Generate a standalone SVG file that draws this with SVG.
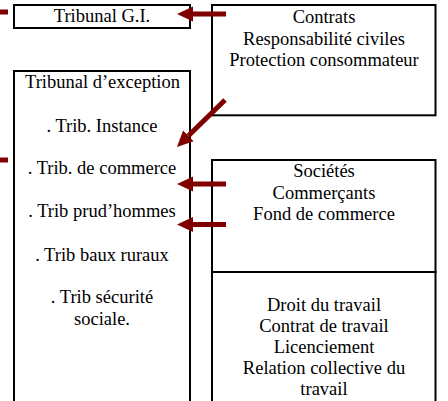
<svg xmlns="http://www.w3.org/2000/svg" width="448" height="401" viewBox="0 0 448 401">
  <defs>
    <marker id="head" markerUnits="userSpaceOnUse" viewBox="0 0 16 16" markerWidth="16" markerHeight="16" refX="0" refY="8" orient="auto">
      <path d="M0,0.5 L16,8 L0,15.5 z" fill="#800000"/>
    </marker>
    <style>
      .box { fill: #ffffff; stroke: #000000; stroke-width: 2; }
      .txt { font-family: "Liberation Serif", "Times New Roman", serif; font-size: 18.5px; fill: #000000; text-anchor: middle; }
      .arrow { stroke: #800000; stroke-width: 5; fill: none; marker-end: url(#head); }
      .stub { fill: #800000; }
    </style>
  </defs>
  <rect width="448" height="401" fill="#ffffff"/>

  <!-- Tribunal de grande instance -->
  <g id="tribunal-gi">
    <rect class="box" x="14" y="5" width="176" height="23"/>
    <text class="txt" x="102" y="22">Tribunal G.I.</text>
  </g>

  <!-- Civil matters -->
  <g id="contrats">
    <rect class="box" x="212" y="5" width="223.5" height="110.3"/>
    <text class="txt" x="324" y="23">Contrats</text>
    <text class="txt" x="324" y="44.5">Responsabilité civiles</text>
    <text class="txt" x="324" y="66">Protection consommateur</text>
  </g>

  <!-- Exceptional courts -->
  <g id="tribunal-exception">
    <rect class="box" x="14" y="71" width="176" height="340"/>
    <text class="txt" x="102.5" y="88.3">Tribunal d’exception</text>
    <text class="txt" x="102" y="131.7">. Trib. Instance</text>
    <text class="txt" x="102" y="174.3">. Trib. de commerce</text>
    <text class="txt" x="102" y="217.3">. Trib prud’hommes</text>
    <text class="txt" x="102" y="260.5">. Trib baux ruraux</text>
    <text class="txt" x="102" y="303.3">. Trib sécurité</text>
    <text class="txt" x="102" y="324.5">sociale.</text>
  </g>

  <!-- Commercial matters -->
  <g id="societes">
    <rect class="box" x="212" y="160" width="223.5" height="112"/>
    <text class="txt" x="324" y="177.3">Sociétés</text>
    <text class="txt" x="324" y="198.5">Commerçants</text>
    <text class="txt" x="324" y="220">Fond de commerce</text>
  </g>

  <!-- Labour law -->
  <g id="droit-travail">
    <rect class="box" x="212" y="272" width="223.5" height="140"/>
    <text class="txt" x="324" y="310.7">Droit du travail</text>
    <text class="txt" x="324" y="331.8">Contrat de travail</text>
    <text class="txt" x="324" y="352.9">Licenciement</text>
    <text class="txt" x="324" y="374.2">Relation collective du</text>
    <text class="txt" x="324" y="395.3">travail</text>
  </g>

  <!-- Connectors -->
  <g id="connectors">
    <line class="arrow" x1="226" y1="14" x2="193" y2="14"/>
    <line class="arrow" x1="225" y1="100" x2="188.4" y2="135.8"/>
    <line class="arrow" x1="226" y1="184" x2="193" y2="184"/>
    <line class="arrow" x1="226" y1="224.5" x2="193" y2="224.5"/>
    <rect class="stub" x="0" y="9.5" width="8" height="5"/>
    <rect class="stub" x="0" y="157.5" width="8" height="5"/>
  </g>
</svg>
